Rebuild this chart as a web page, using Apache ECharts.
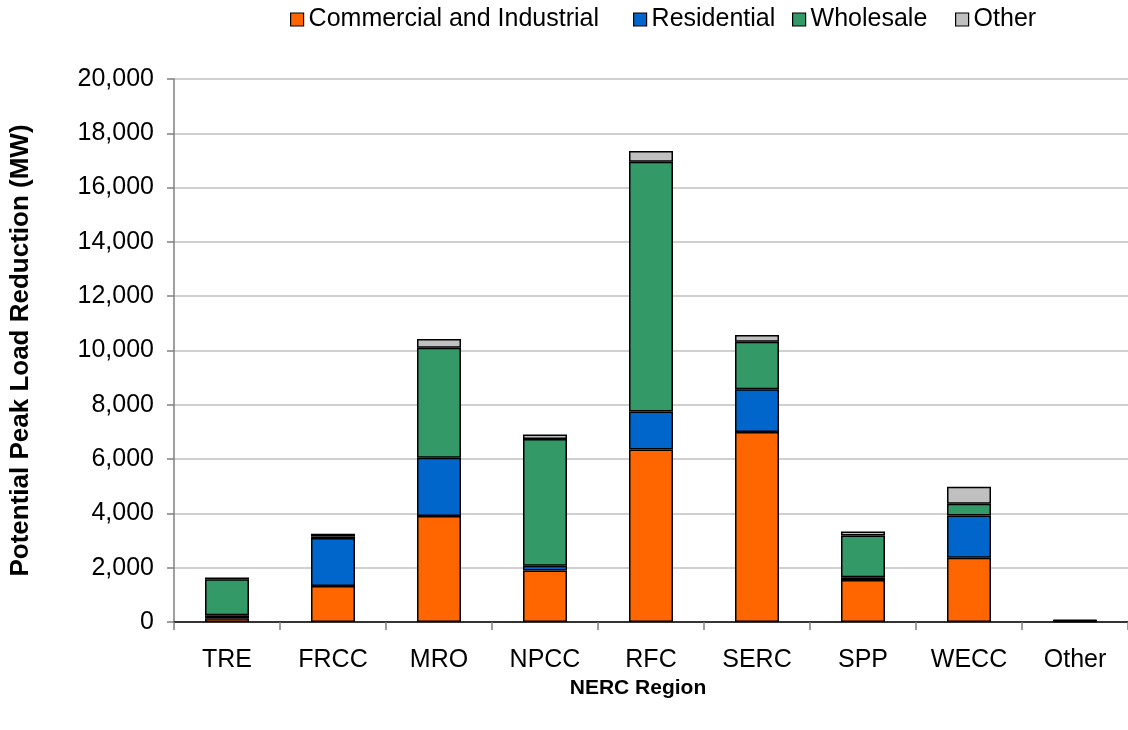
<!DOCTYPE html>
<html>
<head>
<meta charset="utf-8">
<script src="https://cdn.jsdelivr.net/npm/echarts@6/dist/echarts.min.js"></script>
<style>
  html, body { margin: 0; padding: 0; background: #ffffff; }
  #chart { width: 1128px; height: 730px; }
</style>
</head>
<body>
<div id="chart"></div>
<script>
// NERC regions on the category axis
const regions = ['TRE', 'FRCC', 'MRO', 'NPCC', 'RFC', 'SERC', 'SPP', 'WECC', 'Other'];

// Potential peak load reduction (MW) by customer class
const commercialIndustrial = [140, 1330, 3900, 1900, 6350, 7000, 1550, 2370, 30];
const residential          = [110, 1760, 2150, 170, 1400, 1570, 100, 1550, 20];
const wholesale            = [1320, 60, 4050, 4670, 9200, 1750, 1540, 440, 0];
const other                = [70, 100, 320, 170, 400, 250, 140, 620, 20];

const seriesNames = ['Commercial and Industrial', 'Residential', 'Wholesale', 'Other'];
const seriesColors = ['#FF6600', '#0066CC', '#339966', '#C0C0C0'];
const seriesValues = [commercialIndustrial, residential, wholesale, other];

// left edge of each legend entry along the top row
const legendLefts = [290, 633, 792, 955];

const FONT = '"Liberation Sans", Arial, sans-serif';

const chart = echarts.init(document.getElementById('chart'), null, { renderer: 'canvas' });

chart.setOption({
  animation: false,
  backgroundColor: '#ffffff',
  textStyle: { fontFamily: FONT, color: '#000000' },
  legend: seriesNames.map((n, i) => ({
    top: 7,
    left: legendLefts[i],
    padding: 0,
    itemWidth: 13,
    itemHeight: 13,
    icon: 'rect',
    textStyle: { fontFamily: FONT, fontSize: 25, color: '#000000' },
    data: [{
      name: n,
      itemStyle: { color: seriesColors[i], borderColor: '#000000', borderWidth: 1.2 }
    }]
  })),
  grid: { left: 172, right: 0, top: 79, bottom: 108, containLabel: false },
  xAxis: {
    type: 'category',
    data: regions,
    name: 'NERC Region',
    nameLocation: 'middle',
    nameGap: 56,
    nameTextStyle: {
      fontFamily: FONT, fontSize: 21, fontWeight: 'bold', color: '#000000',
      padding: [0, 26, 0, 0]
    },
    axisLine: { show: true, lineStyle: { color: '#000000', width: 1.5 } },
    axisTick: { show: true, alignWithLabel: false, length: 8, lineStyle: { color: '#808080', width: 1.5 } },
    axisLabel: { fontFamily: FONT, fontSize: 25, color: '#000000', margin: 26 }
  },
  yAxis: {
    type: 'value',
    min: 0,
    max: 20000,
    interval: 2000,
    name: 'Potential Peak Load Reduction (MW)',
    nameLocation: 'middle',
    nameGap: 140,
    nameTextStyle: { fontFamily: FONT, fontSize: 26, fontWeight: 'bold', color: '#000000' },
    axisLine: { show: true, lineStyle: { color: '#808080', width: 1.5 } },
    axisTick: { show: true, length: 7, lineStyle: { color: '#808080', width: 1.5 } },
    axisLabel: {
      fontFamily: FONT, fontSize: 25, color: '#000000', margin: 20,
      formatter: v => v.toLocaleString('en-US')
    },
    splitLine: { show: true, lineStyle: { color: '#C0C0C0', width: 1.5 } }
  },
  series: seriesNames.map((n, i) => ({
    name: n,
    type: 'bar',
    stack: 'total',
    barWidth: 44,
    data: seriesValues[i],
    itemStyle: { color: seriesColors[i], borderColor: '#000000', borderWidth: 1.5 },
    emphasis: { disabled: true }
  }))
});
</script>
</body>
</html>
